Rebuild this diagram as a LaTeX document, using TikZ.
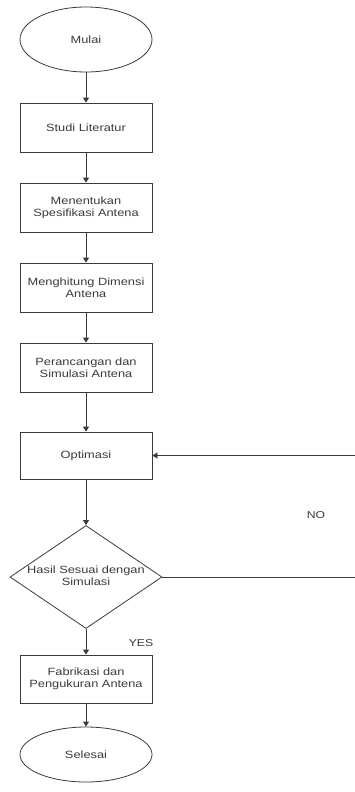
\documentclass[tikz,border=0pt]{standalone}
\usepackage{fontspec}
\setmainfont{Liberation Sans}[FakeStretch=1.22]
\usetikzlibrary{shapes.geometric,arrows.meta}
\definecolor{ln}{HTML}{3A3A3A}
\definecolor{tx}{HTML}{3A3A3A}
\begin{document}
\begin{tikzpicture}[x=1pt,y=-1pt,
  every node/.style={font=\fontsize{10.5}{11.6}\selectfont, text=tx, align=center},
  box/.style={draw=ln, line width=0.8pt, rectangle, minimum width=132pt, minimum height=49pt, inner sep=2pt},
  term/.style={draw=ln, line width=0.8pt, ellipse, minimum width=132pt, inner sep=0pt},
  dec/.style={draw=ln, line width=0.8pt, diamond, minimum width=152pt, minimum height=103pt, inner sep=0pt},
  flow/.style={draw=ln, line width=0.8pt, -{Triangle[length=5pt,width=6pt]}},
  lbl/.style={font=\fontsize{10}{11}\selectfont}]
\useasboundingbox (0,0) rectangle (354,792);
\node[term, minimum height=65pt] (mulai) at (86,39.5) {Mulai};
\node[box] (studi) at (86,127.5) {Studi Literatur};
\node[box] (spek) at (86,207.5) {Menentukan\\Spesifikasi Antena};
\node[box] (hitung) at (86,287.5) {Menghitung Dimensi\\Antena};
\node[box] (ranc) at (86,367.5) {Perancangan dan\\Simulasi Antena};
\node[box, minimum height=47pt] (opt) at (86,455.5) {Optimasi};
\node[dec] (hasil) at (86,577) {\smash{\makebox[0pt]{\raisebox{-3pt}{\begin{tabular}{@{}c@{}}Hasil Sesuai dengan\\Simulasi\end{tabular}}}}};
\node[box, minimum height=48pt] (fab) at (86,679) {Fabrikasi dan\\Pengukuran Antena};
\node[term, minimum height=55pt] (selesai) at (86,754.5) {Selesai};
\node[lbl] (no) at (316,515) {NO};
\node[lbl] (yes) at (141,643) {YES};
\coordinate (loopx) at (358,0);
\draw[flow] (mulai) -- (studi);
\draw[flow] (studi) -- (spek);
\draw[flow] (spek) -- (hitung);
\draw[flow] (hitung) -- (ranc);
\draw[flow] (ranc) -- (opt);
\draw[flow] (opt) -- (hasil);
\draw[flow] (hasil) -- (fab);
\draw[flow] (fab) -- (selesai);
\draw[flow] (hasil.east) -- (hasil.east -| loopx) -- (opt.east -| loopx) -- (opt.east);
\end{tikzpicture}
\end{document}
